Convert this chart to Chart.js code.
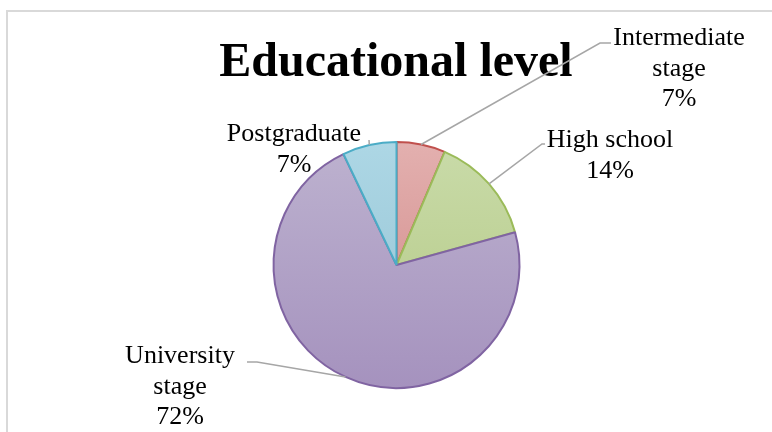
<!DOCTYPE html>
<html>
<head>
<meta charset="utf-8">
<script src="https://cdn.jsdelivr.net/npm/chart.js@4/dist/chart.umd.min.js"></script>
<style>
  html, body { margin: 0; padding: 0; background: #fff; }
  #wrap { width: 772px; height: 432px; }
</style>
</head>
<body>
<div id="wrap"><canvas id="eduChart" width="772" height="432"></canvas></div>
<script>
// Educational level - pie chart data
const titleText = 'Educational level';
const categories = [['Intermediate', 'stage'], ['High school'], ['University', 'stage'], ['Postgraduate']];
const shares = [6.4, 14.3, 72.2, 7.1];          // slice sizes (%)
const shareLabels = ['7%', '14%', '72%', '7%']; // percentages as printed on the chart

const borderColors = ['#C0504D', '#9BBB59', '#8064A2', '#4BACC6'];
const topColors = ['#E3B0AF', '#C9DBA9', '#BDB2CF', '#ADD7E5'];
const bottomColors = ['#CF8584', '#B3C883', '#A592BE', '#93C1D2'];

// where each label block sits (center x, first baseline) and the leader elbow
const labelSpots = [
  { x: 679, y: 45, elbow: [600, 43], end: [611, 43] },
  { x: 610, y: 147, elbow: [542, 144], end: [545, 144] },
  { x: 180, y: 363, elbow: [257, 362], end: [247, 362] },
  { x: 294, y: 141, elbow: [369, 140], end: [369, 140] }
];

const pieLabels = {
  id: 'pieLabels',
  beforeDraw(chart) {
    const ctx = chart.ctx;
    ctx.save();
    ctx.fillStyle = '#fff';
    ctx.fillRect(0, 0, chart.width, chart.height);
    // chart frame (only top/left edges are inside the picture)
    ctx.strokeStyle = '#d9d9d9';
    ctx.lineWidth = 2;
    ctx.beginPath();
    ctx.moveTo(7, chart.height);
    ctx.lineTo(7, 11);
    ctx.lineTo(chart.width, 11);
    ctx.stroke();
    ctx.restore();
  },
  afterDatasetsDraw(chart) {
    const ctx = chart.ctx;
    const meta = chart.getDatasetMeta(0);
    ctx.save();
    // title
    ctx.fillStyle = '#000';
    ctx.font = 'bold 48px "Liberation Serif", "Times New Roman", serif';
    ctx.textAlign = 'center';
    ctx.textBaseline = 'alphabetic';
    ctx.fillText(titleText, 396, 76);

    // leader lines
    ctx.strokeStyle = '#a6a6a6';
    ctx.lineWidth = 1.5;
    meta.data.forEach((arc, i) => {
      const p = arc.getProps(['x', 'y', 'startAngle', 'endAngle', 'outerRadius'], true);
      const mid = (p.startAngle + p.endAngle) / 2;
      const sx = p.x + Math.cos(mid) * p.outerRadius;
      const sy = p.y + Math.sin(mid) * p.outerRadius;
      const s = labelSpots[i];
      ctx.beginPath();
      ctx.moveTo(sx, sy);
      ctx.lineTo(s.elbow[0], s.elbow[1]);
      ctx.lineTo(s.end[0], s.end[1]);
      ctx.stroke();
    });

    // labels
    ctx.font = '26px "Liberation Serif", "Times New Roman", serif';
    ctx.fillStyle = '#000';
    categories.forEach((lines, i) => {
      const s = labelSpots[i];
      const all = lines.concat([shareLabels[i]]);
      all.forEach((t, k) => ctx.fillText(t, s.x, s.y + k * 30.5));
    });
    ctx.restore();
  }
};

new Chart(document.getElementById('eduChart').getContext('2d'), {
  type: 'pie',
  data: {
    labels: categories,
    datasets: [{
      data: shares,
      backgroundColor: (c) => {
        const area = c.chart.chartArea;
        const i = c.dataIndex;
        if (!area) return topColors[i];
        const g = c.chart.ctx.createLinearGradient(0, area.top, 0, area.bottom);
        g.addColorStop(0, topColors[i]);
        g.addColorStop(1, bottomColors[i]);
        return g;
      },
      borderColor: borderColors,
      borderWidth: 2
    }]
  },
  options: {
    responsive: false,
    devicePixelRatio: 1,
    animation: false,
    radius: 123,
    layout: { padding: { left: 273, right: 252, top: 142, bottom: 44 } },
    plugins: {
      legend: { display: false },
      tooltip: { enabled: false },
      title: { display: false }
    }
  },
  plugins: [pieLabels]
});
</script>
</body>
</html>
